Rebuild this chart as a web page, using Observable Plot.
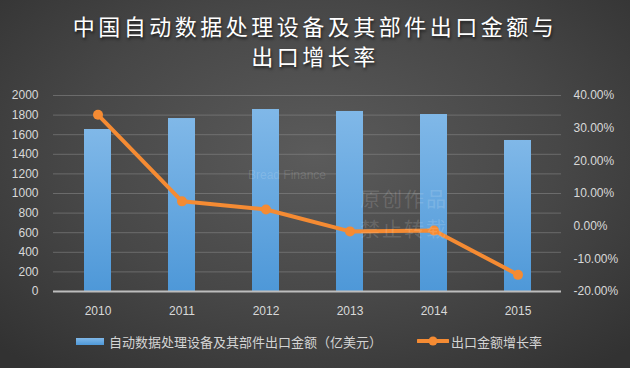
<!DOCTYPE html>
<html><head><meta charset="utf-8">
<script src="https://cdn.jsdelivr.net/npm/d3@7"></script>
<script src="https://cdn.jsdelivr.net/npm/@observablehq/plot@0.6"></script>
<style>
html,body{margin:0;padding:0;}
#wrap{position:relative;width:630px;height:368px;overflow:hidden;
 background:radial-gradient(ellipse 70% 75% at 50% 42%, #5b5b5b 0%, #474747 55%, #323232 100%);
 font-family:"Noto Sans CJK SC","Noto Sans",sans-serif;}
#title{position:absolute;left:0;top:10px;width:630px;text-align:center;color:#fff;
 font-size:22px;line-height:30px;letter-spacing:3.5px;font-weight:400;text-shadow:1px 2px 3px rgba(0,0,0,0.6);}
#chart{position:absolute;left:0;top:80px;}
#legend{position:absolute;left:0;top:330px;width:630px;height:22px;color:#d4d4d4;font-size:13px;}
.wm{position:absolute;color:rgba(255,255,255,0.15);white-space:nowrap;line-height:20px;}
</style></head>
<body><div id="wrap">
<div id="title">中国自动数据处理设备及其部件出口金额与<br>出口增长率</div>
<div id="chart"></div>
<div class="wm" style="left:248px;top:168px;font:12px 'Liberation Sans',sans-serif;line-height:14px;">Bread Finance</div>
<div class="wm" style="left:360px;top:189px;font-size:20px;letter-spacing:2px;">原创作品</div>
<div class="wm" style="left:360px;top:219px;font-size:20px;letter-spacing:2px;">禁止转载</div>
<div id="legend"></div>
</div>
<script>
const years = ["2010","2011","2012","2013","2014","2015"];
const exportValue = [1653, 1765, 1857, 1837, 1806, 1541];
const growthRate = [34.1, 7.6, 5.1, -1.6, -1.3, -14.9];
const leftTicks = [0,200,400,600,800,1000,1200,1400,1600,1800,2000];
const rightTicks = [-20,-10,0,10,20,30,40];
const seriesNames = ["自动数据处理设备及其部件出口金额（亿美元）","出口金额增长率"];

const yMax = 2000, pMin = -20, pMax = 40;
const toLeft = p => (p - pMin) / (pMax - pMin) * yMax;

const data = years.map((y,i)=>({year:y, value:exportValue[i], rate:growthRate[i]}));

const defs = () => {
  const d = d3.create("svg:defs");
  const g = d.append("linearGradient").attr("id","barGrad").attr("x1",0).attr("y1",0).attr("x2",0).attr("y2",1);
  g.append("stop").attr("offset","0%").attr("stop-color","#80b8e8");
  g.append("stop").attr("offset","100%").attr("stop-color","#4e98d8");
  const f = d.append("filter").attr("id","shadow").attr("x","-10%").attr("y","-10%").attr("width","130%").attr("height","130%");
  f.append("feDropShadow").attr("dx",1).attr("dy",2).attr("stdDeviation",1.5).attr("flood-color","#000").attr("flood-opacity",0.45);
  return d.node();
};

const font = "'Liberation Sans', Arial, sans-serif";
const chart = Plot.plot({
  width: 630, height: 245,
  marginLeft: 53, marginRight: 69, marginTop: 15, marginBottom: 34,
  style: {background:"transparent", color:"#d9d9d9", fontFamily: font, fontSize:"12px"},
  x: {type:"band", domain: years, paddingInner: 0.68, paddingOuter: 0.34, align: 0.5, label: null},
  y: {domain:[0, yMax], label: null},
  marks: [
    defs,
    Plot.gridY(leftTicks, {stroke:"#8a8a8a", strokeOpacity:0.55, strokeWidth:1}),
    Plot.barY(data, {x:"year", y:"value", fill:"url(#barGrad)"}),
    Plot.ruleY([0], {stroke:"#bdbdbd", strokeWidth:2}),
    Plot.axisY(leftTicks, {anchor:"left", tickSize:0, tickPadding:15, label:null, fill:"#d9d9d9", fontSize:12, tickFormat: d => String(d)}),
    Plot.axisY(rightTicks.map(toLeft), {anchor:"right", tickSize:0, tickPadding:12, label:null, textAnchor:"start",
      tickFormat: v => ((v / yMax) * (pMax - pMin) + pMin).toFixed(2) + "%", fill:"#d9d9d9", fontSize:12}),
    Plot.axisX({tickSize:0, tickPadding:15, label:null, fill:"#d9d9d9", fontSize:12}),
    Plot.lineY(data, {x:"year", y: d => toLeft(d.rate), stroke:"#f58b33", strokeWidth:4}),
    Plot.dot(data, {x:"year", y: d => toLeft(d.rate), r:5, fill:"#f58b33", stroke:"none"})
  ]
});
chart.querySelectorAll("path").forEach(p=>{ if (p.getAttribute("stroke")==="#f58b33") p.setAttribute("filter","url(#shadow)"); });
document.getElementById("chart").appendChild(chart);

// legend
const lg = d3.select("#legend");
const item1 = lg.append("div").style("position","absolute").style("left","76px").style("top","0px").style("display","flex").style("align-items","center").style("height","22px");
item1.append("div").style("width","28px").style("height","7px").style("background","linear-gradient(#80b8e8,#4e98d8)").style("margin-right","5px");
item1.append("span").text(seriesNames[0]);
const item2 = lg.append("div").style("position","absolute").style("left","417px").style("top","0px").style("display","flex").style("align-items","center").style("height","22px");
const sw = item2.append("svg").attr("width",32).attr("height",12).style("margin-right","2px");
sw.append("line").attr("x1",1).attr("x2",31).attr("y1",6).attr("y2",6).attr("stroke","#f58b33").attr("stroke-width",4).attr("stroke-linecap","round");
sw.append("circle").attr("cx",16).attr("cy",6).attr("r",4.5).attr("fill","#f58b33");
item2.append("span").text(seriesNames[1]);
</script>
</body></html>
